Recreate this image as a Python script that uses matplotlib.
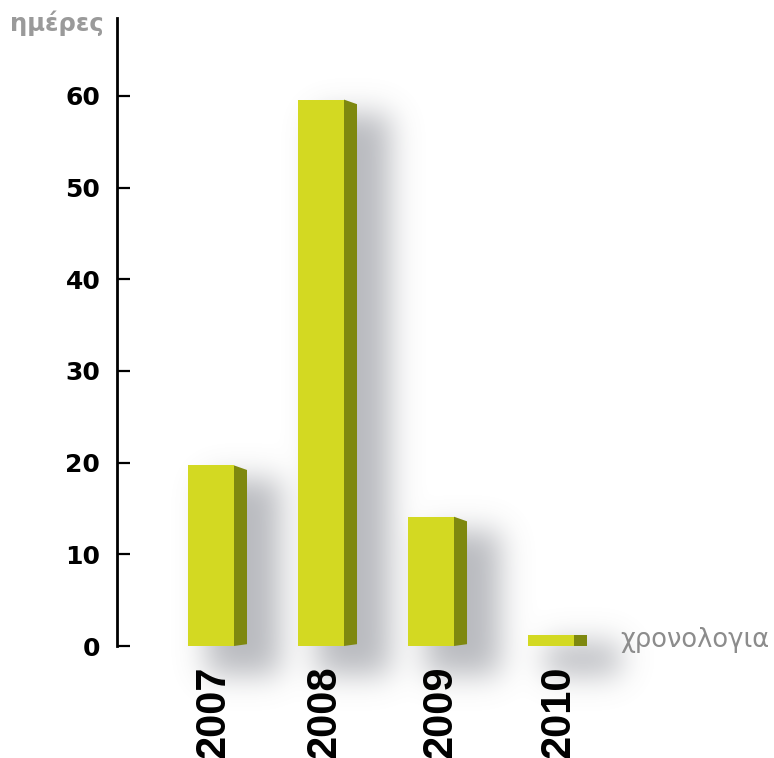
import numpy as np
import matplotlib
matplotlib.use('Agg')
import matplotlib.pyplot as plt
from matplotlib.patches import Rectangle, Polygon

# data
years = ['2007', '2008', '2009', '2010']
days = [19.7, 59.6, 14.1, 1.2]
y_ticks = [0, 10, 20, 30, 40, 50, 60]

front_col = '#d3d922'
side_col = '#7e880f'

W, H = 774, 758
fig = plt.figure(figsize=(W / 100, H / 100), dpi=100)
ax = fig.add_axes([117 / W, 112 / H, (W - 117) / W, (646 - 18) / H])
x0, x1 = -0.8545, 5.118
y0, y1 = 0, 68.5
ax.set_xlim(x0, x1)
ax.set_ylim(y0, y1)

# layout of the bars along x (the 2010 block sits a bit off the grid)
bar_x = np.array([0, 1, 2, 3.09])
label_x = np.array([0.02, 1.03, 2.09, 3.16])
w = 46 / 110.0   # front face width
d = 13 / 110.0   # side face depth

# soft drop shadows, built on a pixel grid and blurred
ys_bot = -10.0
nx, ny = 657, 720
gx = np.linspace(x0, x1, nx)
gy = np.linspace(ys_bot, y1, ny)
X, Y = np.meshgrid(gx, gy)
mask = np.zeros_like(X)
for xc, v in zip(bar_x, days):
    xl = xc - w / 2
    top = max(v - 1.5, 0.3)
    mask[(X >= xl + w * 0.4) & (X <= xl + w + d + 0.3) & (Y >= -3.2) & (Y <= top)] = 1.0

sig = 15.0
k = np.arange(-55, 56)
kern = np.exp(-k ** 2 / (2 * sig ** 2))
kern /= kern.sum()
blur = np.apply_along_axis(lambda r: np.convolve(r, kern, mode='same'), 1, mask)
blur = np.apply_along_axis(lambda c: np.convolve(c, kern, mode='same'), 0, blur)

rgba = np.zeros((ny, nx, 4))
rgba[..., 0] = 0.45
rgba[..., 1] = 0.46
rgba[..., 2] = 0.50
rgba[..., 3] = np.clip(blur * 0.5, 0, 1)
ax.imshow(rgba, extent=[x0, x1, ys_bot, y1], origin='lower', aspect='auto',
          zorder=1, clip_on=False, interpolation='bilinear')

# the 3d-ish bars
for xc, v in zip(bar_x, days):
    xl = xc - w / 2
    ax.add_patch(Rectangle((xl, 0), w, v, facecolor=front_col,
                           edgecolor='none', zorder=3))
    if v > 3:
        dy_top, dy_bot = 0.5, 0.2
    else:
        dy_top, dy_bot = 0.0, 0.0
    side = [(xl + w, 0), (xl + w + d, dy_bot), (xl + w + d, v - dy_top), (xl + w, v)]
    ax.add_patch(Polygon(side, closed=True, facecolor=side_col,
                         edgecolor='none', zorder=3))

ax.set_xlim(x0, x1)
ax.set_ylim(y0, y1)

for s in ['top', 'right', 'bottom']:
    ax.spines[s].set_visible(False)
ax.spines['left'].set_linewidth(2)
ax.spines['left'].set_color('black')

ax.set_yticks(y_ticks)
ax.tick_params(axis='y', direction='in', length=9.5, width=1.6, pad=12,
               labelsize=18)
for t in ax.get_yticklabels():
    t.set_fontweight('bold')

ax.set_xticks(label_x)
ax.set_xticklabels(years, rotation=90, fontsize=30, fontweight='bold',
                   family='Liberation Sans')
ax.tick_params(axis='x', length=0, pad=14)

fig.text(10 / W, 1 - 11 / H, 'ημέρες', ha='left', va='top', color='#9a9a9a',
         fontsize=17.5, fontweight='bold')
fig.text(620 / W, 1 - 640 / H, 'χρονολογια', ha='left', va='center',
         color='#8c8c8c', fontsize=18.5)

fig.savefig('out.png', dpi=100)
